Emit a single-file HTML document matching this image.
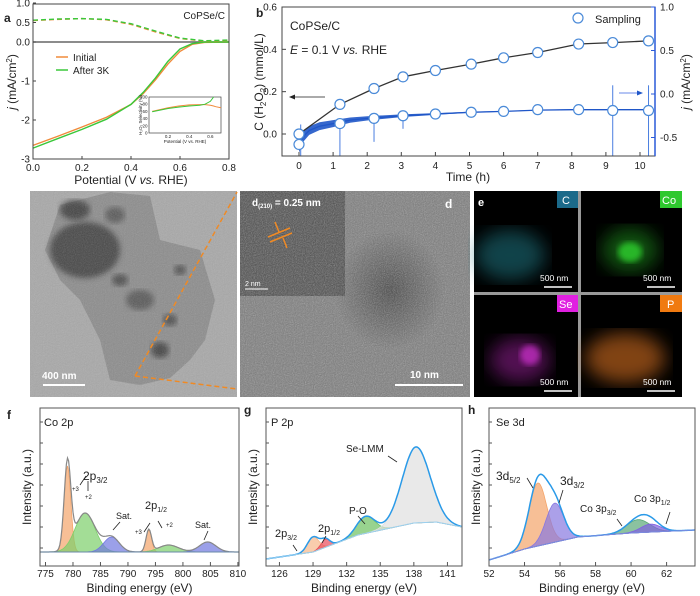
<!DOCTYPE html>
<html><head><meta charset="utf-8"><style>
html,body{margin:0;padding:0;background:#fff;}
svg{display:block;font-family:"Liberation Sans",sans-serif;}
</style></head><body>
<svg id="fig" width="700" height="596" viewBox="0 0 700 596" xmlns="http://www.w3.org/2000/svg">
<defs>
<filter id="noise" x="0" y="0" width="100%" height="100%"><feTurbulence type="fractalNoise" baseFrequency="0.9" numOctaves="2" seed="3"/><feColorMatrix type="saturate" values="0"/><feComponentTransfer><feFuncA type="linear" slope="0.7"/></feComponentTransfer></filter>
<filter id="blur3"><feGaussianBlur stdDeviation="3"/></filter>
<filter id="blur8"><feGaussianBlur stdDeviation="9"/></filter>
<radialGradient id="dark" cx="0.5" cy="0.5" r="0.5"><stop offset="0" stop-color="#2a2a2a" stop-opacity="0.7"/><stop offset="1" stop-color="#2a2a2a" stop-opacity="0"/></radialGradient>
</defs>
<g id="pa"></g>
<g id="pb"></g>
<g id="pc">
 <rect x="30" y="191" width="207" height="206" fill="#a8a8a8"/>
 <path d="M60,205 L110,192 L150,196 L160,240 L200,250 L215,300 L205,340 L190,360 L170,378 L140,385 L110,380 L100,340 L80,300 L60,280 L45,250 Z" fill="#8c8c8c"/>
 <ellipse cx="85" cy="250" rx="35" ry="28" fill="#3a3a3a" opacity="0.85" filter="url(#blur3)"/>
 <ellipse cx="75" cy="210" rx="15" ry="10" fill="#333" opacity="0.8" filter="url(#blur3)"/>
 <ellipse cx="115" cy="215" rx="10" ry="8" fill="#444" opacity="0.7" filter="url(#blur3)"/>
 <ellipse cx="140" cy="300" rx="14" ry="10" fill="#444" opacity="0.7" filter="url(#blur3)"/>
 <ellipse cx="120" cy="280" rx="8" ry="6" fill="#333" opacity="0.7" filter="url(#blur3)"/>
 <ellipse cx="160" cy="350" rx="9" ry="8" fill="#333" opacity="0.8" filter="url(#blur3)"/>
 <ellipse cx="170" cy="320" rx="7" ry="6" fill="#333" opacity="0.7" filter="url(#blur3)"/>
 <ellipse cx="180" cy="270" rx="6" ry="5" fill="#333" opacity="0.7" filter="url(#blur3)"/>
 <rect x="30" y="191" width="207" height="206" filter="url(#noise)" opacity="0.4"/>
 <line x1="43" y1="385" x2="85" y2="385" stroke="#fff" stroke-width="2"/>
 <text x="42" y="379" font-size="10" font-weight="bold" fill="#fff">400 nm</text>
 <path d="M135,376 L237,192 M135,376 L237,389" stroke="#f08a24" stroke-width="1.5" stroke-dasharray="5,3" fill="none"/>
</g>
<g id="pd">
 <rect x="240" y="191" width="230" height="206" fill="#7a7a7a"/>
 <rect x="240" y="191" width="105" height="105" fill="#4a4a4a"/>
 <ellipse cx="390" cy="290" rx="55" ry="60" fill="url(#dark)"/>
 <rect x="240" y="191" width="230" height="206" filter="url(#noise)" opacity="0.8"/>
 <text x="252" y="206" font-size="10" font-weight="bold" fill="#fff">d<tspan font-size="6" dy="2">(210)</tspan><tspan dy="-2"> = 0.25 nm</tspan></text>
 <path d="M268,237 L290,228 M270,242 L292,233" stroke="#f08a24" stroke-width="1.5"/>
 <path d="M275,222 L279,232 M287,248 L283,238" stroke="#f08a24" stroke-width="1.5"/>
 <text x="445" y="208" font-size="12" font-weight="bold" fill="#fff">d</text>
 <line x1="245" y1="289" x2="268" y2="289" stroke="#fff" stroke-width="1"/>
 <text x="245" y="286" font-size="7" fill="#fff">2 nm</text>
 <line x1="395" y1="385" x2="463" y2="385" stroke="#fff" stroke-width="2"/>
 <text x="410" y="378" font-size="10" font-weight="bold" fill="#fff">10 nm</text>
</g>
<g id="pe">
 <rect x="474" y="191" width="208" height="206" fill="#999"/>
 <rect x="474" y="191" width="104" height="101" fill="#000"/>
 <rect x="581" y="191" width="101" height="101" fill="#000"/>
 <rect x="474" y="295" width="104" height="102" fill="#000"/>
 <rect x="581" y="295" width="101" height="102" fill="#000"/>
 <ellipse cx="510" cy="255" rx="35" ry="25" fill="#1f6f7a" opacity="0.6" filter="url(#blur8)"/>
 <ellipse cx="630" cy="250" rx="28" ry="22" fill="#1a8a1a" opacity="0.6" filter="url(#blur8)"/>
 <ellipse cx="630" cy="252" rx="12" ry="10" fill="#2fd02f" opacity="0.8" filter="url(#blur3)"/>
 <ellipse cx="520" cy="360" rx="30" ry="22" fill="#8a1a8a" opacity="0.6" filter="url(#blur8)"/>
 <ellipse cx="530" cy="355" rx="10" ry="10" fill="#d030d0" opacity="0.7" filter="url(#blur3)"/>
 <ellipse cx="625" cy="358" rx="40" ry="25" fill="#b8601a" opacity="0.7" filter="url(#blur8)"/>
 <text x="478" y="206" font-size="11" font-weight="bold" fill="#fff">e</text>
 <rect x="557" y="191" width="21" height="17" fill="#1b6a8a"/><text x="562" y="204" font-size="11" fill="#fff">C</text>
 <rect x="660" y="191" width="22" height="17" fill="#2ec82e"/><text x="662" y="204" font-size="11" fill="#fff">Co</text>
 <rect x="557" y="295" width="21" height="17" fill="#e020e0"/><text x="559" y="308" font-size="11" fill="#fff">Se</text>
 <rect x="660" y="295" width="22" height="17" fill="#f07a10"/><text x="667" y="308" font-size="11" fill="#fff">P</text>
 <g fill="#fff" font-size="8.5">
  <text x="540" y="281">500 nm</text><line x1="544" y1="287" x2="572" y2="287" stroke="#fff" stroke-width="1.5"/>
  <text x="643" y="281">500 nm</text><line x1="647" y1="287" x2="675" y2="287" stroke="#fff" stroke-width="1.5"/>
  <text x="540" y="385">500 nm</text><line x1="544" y1="391" x2="572" y2="391" stroke="#fff" stroke-width="1.5"/>
  <text x="643" y="385">500 nm</text><line x1="647" y1="391" x2="675" y2="391" stroke="#fff" stroke-width="1.5"/>
 </g>
</g>
<g id="pf"></g>
<g id="pg"></g>
<g id="ph"></g>
</svg>
<script>
// ---------- DATA ----------
// Panel a
const aPot = [0,0.1,0.2,0.3,0.4,0.45,0.5,0.55,0.6,0.65,0.7,0.8];
const aInitial = [-2.65,-2.42,-2.18,-1.93,-1.6,-1.32,-0.97,-0.57,-0.24,-0.06,-0.01,0];
const aAfter = [-2.72,-2.48,-2.24,-1.98,-1.6,-1.29,-0.92,-0.5,-0.18,-0.04,0,0];
const aRingPot = [0,0.1,0.2,0.3,0.4,0.5,0.6,0.7,0.8];
const aRingInitial = [0.55,0.58,0.6,0.57,0.45,0.26,0.09,0.02,0.04];
const aRingAfter = [0.56,0.59,0.6,0.58,0.47,0.28,0.1,0.03,0.05];
const aYTicks = [1.0,0.5,0.0,-1,-2,-3];
const aYTickLabels = ["1.0","0.5","0.0","-1","-2","-3"];
const aXTicks = [0,0.2,0.4,0.6,0.8];
const insetPot = [0.05,0.2,0.3,0.4,0.5,0.55,0.6,0.63];
const insetInitial = [60,70,75,78,79,79,77,75];
const insetPotI2 = [0.65,0.7];
const insetInitial2 = [73,70];
const insetAfter = [59,68,72,75,77,80,88,100];
const insetYTicks = [0,20,40,60,80,100];
const insetXTicks = [0.2,0.4,0.6];
// Panel b
const bTime = [0,1.2,2.2,3.05,4,5.05,6,7,8.2,9.2,10.25];
const bH2O2 = [0,0.14,0.215,0.27,0.3,0.33,0.36,0.385,0.425,0.432,0.44];
const bJSample = [-0.58,-0.34,-0.28,-0.25,-0.23,-0.21,-0.2,-0.18,-0.18,-0.19,-0.19];
const bCurT = [0,0.1,0.3,0.6,1,1.5,2,3,4,5,6,7,8,9,10,10.4];
const bCurJ = [-0.62,-0.5,-0.42,-0.37,-0.34,-0.3,-0.28,-0.25,-0.23,-0.21,-0.2,-0.185,-0.18,-0.18,-0.18,-0.18];
const bCurNoise = [0.06,0.06,0.05,0.045,0.04,0.03,0.025,0.015,0.01,0.006,0.005,0.004,0.004,0.004,0.004,0.004];
const bSpikeT = [0.05,1.2,2.2,3.05,9.2,10.25];
const bSpikeTop = [-0.35,-0.3,-0.25,-0.22,0.1,0.1];
const bSpikeJ = [-0.75,-0.75,-0.55,-0.4,-0.75,-0.75];
const bLeftTicks = [0,0.2,0.4,0.6];
const bRightTicks = [1.0,0.5,0.0,-0.5];
const bXTicks = [0,1,2,3,4,5,6,7,8,9,10];
// Panel f (Co 2p)
const fCenters = [779.0,782.2,787.0,793.8,797.4,804.5];
const fHeights = [86,39,15,22,7,10];
const fSigmas = [0.6,1.8,1.4,0.5,1.8,1.5];
const fColors = ["#f4a46a","#7ccf6a","#7078e0","#f4a46a","#7ccf6a","#7078e0"];
const fXTicks = [775,780,785,790,795,800,805,810];
// Panel g (P 2p)
const gCenters = [129.0,130.1,133.7,138.2];
const gHeights = [15,8,17,76];
const gSigmas = [0.5,0.4,0.8,1.25];
const gColors = ["#f6b88a","#e84a5a","#6cc060","#e0e0e0"];
const gBgE = [124.8,129,133,138,140,142.3];
const gBgY = [559,552,535,523,522,527];
const gXTicks = [126,129,132,135,138,141];
// Panel h (Se 3d)
const hCenters = [54.75,55.7,60.4,61.1];
const hHeights = [63,39,13,8];
const hSigmas = [0.5,0.5,0.65,0.55];
const hColors = ["#f4a46a","#8878e0","#5aa878","#8060e0"];
const hBgE = [52,54,57,60,63.6];
const hBgY = [560,549,537,533,530];
const hXTicks = [52,54,56,58,60,62];

// ---------- HELPERS ----------
const NS="http://www.w3.org/2000/svg";
function mk(parent,tag,attrs){const e=document.createElementNS(NS,tag);for(const k in attrs)e.setAttribute(k,attrs[k]);parent.appendChild(e);return e;}
function txt(parent,x,y,s,size,anchor,extra){const t=mk(parent,'text',Object.assign({x:x,y:y,'font-size':size,'text-anchor':anchor||'start',fill:'#222'},extra||{}));t.textContent=s;return t;}
function lin(d0,d1,r0,r1){return v=>r0+(v-d0)*(r1-r0)/(d1-d0);}
function pathOf(xs,ys,sx,sy){return xs.map((v,i)=>(i?'L':'M')+sx(v).toFixed(1)+','+sy(ys[i]).toFixed(1)).join('');}
function interp(xs,ys,x){if(x<=xs[0])return ys[0];for(let i=1;i<xs.length;i++){if(x<=xs[i]){const t=(x-xs[i-1])/(xs[i]-xs[i-1]);return ys[i-1]+t*(ys[i]-ys[i-1]);}}return ys[ys.length-1];}

// ---------- PANEL A ----------
(function(){
const g=document.getElementById('pa');
const X0=33,X1=229,Y0=4,Y1=159;
const sx=lin(0,0.8,X0,X1), sy=lin(0,-3,42,159);
txt(g,4,22,'a',12,'start',{'font-weight':'bold'});
mk(g,'line',{x1:X0,y1:sy(0),x2:X1,y2:sy(0),stroke:'#666','stroke-width':1.5});
const ls=[[aInitial,'#f08a3a'],[aAfter,'#3ac83a']];
ls.forEach(([d,c],i)=>{const p=mk(g,'path',{d:pathOf(aPot,d,sx,sy),stroke:c,'stroke-width':1.4,fill:'none'});
});
[[aRingInitial,'#f08a3a'],[aRingAfter,'#3ac83a']].forEach(([d,c],i)=>{const p=mk(g,'path',{d:pathOf(aRingPot,d,sx,sy),stroke:c,'stroke-width':1.4,fill:'none','stroke-dasharray':'5,3'});
});
mk(g,'rect',{x:X0,y:Y0,width:X1-X0,height:Y1-Y0,fill:'none',stroke:'#444','stroke-width':1});
aYTicks.forEach((v,i)=>{const y=sy(v);mk(g,'line',{x1:X0,y1:y,x2:X0+3,y2:y,stroke:'#444'});txt(g,X0-3,y+3.5,aYTickLabels[i],10,'end');});
aXTicks.forEach(v=>{const x=sx(v);mk(g,'line',{x1:x,y1:Y1,x2:x,y2:Y1-3,stroke:'#444'});txt(g,x,Y1+12,v.toFixed(1),10,'middle');});
txt(g,131,184,'',12,'middle').innerHTML='Potential (V <tspan font-style="italic">vs.</tspan> RHE)';
const yt=txt(g,16,82,'',12,'middle',{transform:'rotate(-90 16 82)'});yt.innerHTML='<tspan font-style="italic">j</tspan> (mA/cm<tspan font-size="8" dy="-4">2</tspan><tspan dy="4">)</tspan>';
txt(g,225,19,'CoPSe/C',10,'end');
mk(g,'line',{x1:56,y1:57,x2:68,y2:57,stroke:'#f08a3a','stroke-width':1.5});txt(g,73,61,'Initial',10);
mk(g,'line',{x1:56,y1:70,x2:68,y2:70,stroke:'#3ac83a','stroke-width':1.5});txt(g,73,74,'After 3K',10);
// inset
const IX0=149,IX1=221,IY0=97,IY1=133;
const ix=lin(0.02,0.7,IX0,IX1), iy=lin(0,100,IY1,IY0);
mk(g,'rect',{x:IX0,y:IY0,width:IX1-IX0,height:IY1-IY0,fill:'#fff',stroke:'#444','stroke-width':0.7});
const ip1=mk(g,'path',{d:pathOf(insetPot.concat(insetPotI2),insetInitial.concat(insetInitial2),ix,iy),stroke:'#f08a3a','stroke-width':1,fill:'none'});

const ip2=mk(g,'path',{d:pathOf(insetPot,insetAfter,ix,iy),stroke:'#3ac83a','stroke-width':1,fill:'none'});

insetYTicks.forEach(v=>txt(g,IX0-1.5,iy(v)+1.5,String(v),4.5,'end'));
insetXTicks.forEach(v=>txt(g,ix(v),IY1+5,v.toFixed(1),4.5,'middle'));
txt(g,185,143,'Potential (V vs. RHE)',4.5,'middle');
txt(g,142,115,'H₂O₂ Selectivity (%)',4.5,'middle',{transform:'rotate(-90 142 115)'});
})();

// ---------- PANEL B ----------
(function(){
const g=document.getElementById('pb');
const X0=282,X1=655,Y0=7,Y1=156;
const sx=lin(0,10,299,640), syL=lin(0,0.6,134,7), syR=lin(0,1,94,7);
txt(g,256,17,'b',12,'start',{'font-weight':'bold'});
const up=bCurT.map((t,i)=>sx(t).toFixed(1)+','+syR(bCurJ[i]+bCurNoise[i]).toFixed(1));
const dn=bCurT.map((t,i)=>sx(t).toFixed(1)+','+syR(bCurJ[i]-bCurNoise[i]).toFixed(1)).reverse();
const band=mk(g,'polygon',{points:up.concat(dn).join(' '),fill:'#1f56c8',opacity:0.9});

const cl=mk(g,'path',{d:pathOf(bCurT,bCurJ,sx,syR),stroke:'#1f56c8','stroke-width':1.3,fill:'none'});

bSpikeT.forEach((t,i)=>{const s=mk(g,'line',{x1:sx(t),y1:syR(bSpikeTop[i]),x2:sx(t),y2:Math.min(Y1,syR(bSpikeJ[i])),stroke:'#4a7ee0','stroke-width':1});
});
const hl=mk(g,'path',{d:pathOf(bTime,bH2O2,sx,syL),stroke:'#333','stroke-width':1.3,fill:'none'});

bTime.forEach((t,i)=>{const c=mk(g,'circle',{cx:sx(t),cy:syL(bH2O2[i]),r:5,fill:'#fff',stroke:'#4a8ad8','stroke-width':1.2});

const c2=mk(g,'circle',{cx:sx(t),cy:syR(bJSample[i]),r:5,fill:'#fff',stroke:'#4a8ad8','stroke-width':1.2});
});
mk(g,'rect',{x:X0,y:Y0,width:X1-X0,height:Y1-Y0,fill:'none',stroke:'#444','stroke-width':1});
mk(g,'line',{x1:X1,y1:Y0,x2:X1,y2:Y1,stroke:'#2a5ad8','stroke-width':1.5});
bLeftTicks.forEach(v=>{const y=syL(v);mk(g,'line',{x1:X0,y1:y,x2:X0+4,y2:y,stroke:'#444'});txt(g,X0-5,y+3.5,v.toFixed(1),10,'end');});
bRightTicks.forEach(v=>{const y=syR(v);mk(g,'line',{x1:X1,y1:y,x2:X1-4,y2:y,stroke:'#2a5ad8'});txt(g,X1+5,y+3.5,v.toFixed(1),10,'start');});
bXTicks.forEach(v=>{const x=sx(v);mk(g,'line',{x1:x,y1:Y1,x2:x,y2:Y1-4,stroke:'#444'});txt(g,x,Y1+13,String(v),10,'middle');});
txt(g,468,181,'Time (h)',12,'middle');
const yl=txt(g,263,82,'',12,'middle',{transform:'rotate(-90 263 82)'});yl.innerHTML='C (H<tspan font-size="8" dy="3">2</tspan><tspan dy="-3">O</tspan><tspan font-size="8" dy="3">2</tspan><tspan dy="-3">) (mmol/L)</tspan>';
const yr=txt(g,690,82,'',12,'middle',{transform:'rotate(-90 690 82)'});yr.innerHTML='<tspan font-style="italic">j</tspan> (mA/cm<tspan font-size="8" dy="-4">2</tspan><tspan dy="4">)</tspan>';
txt(g,290,30,'CoPSe/C',12);
txt(g,290,54,'',12).innerHTML='<tspan font-style="italic">E</tspan> = 0.1 V <tspan font-style="italic">vs.</tspan> RHE';
mk(g,'circle',{cx:578,cy:18,r:5,fill:'#fff',stroke:'#4a8ad8','stroke-width':1.2});
txt(g,595,23,'Sampling',11);
mk(g,'path',{d:'M325,97 L292,97',stroke:'#555','stroke-width':1});mk(g,'path',{d:'M289,97 L295,94.5 L295,99.5Z',fill:'#222'});
mk(g,'path',{d:'M619,93 L640,93',stroke:'#6a8ae8','stroke-width':1});mk(g,'path',{d:'M643,93 L637,90.5 L637,95.5Z',fill:'#1f56c8'});
})();

// ---------- XPS helpers ----------
function gauss(E,c,h,s){return h*Math.exp(-0.5*Math.pow((E-c)/s,2));}
function xps(gid,o){
const g=document.getElementById(gid);
const sx=lin(o.e0,o.e1,o.X0,o.X1);
const bg=E=>o.bgE?interp(o.bgE,o.bgY,E):o.base;
const Es=[];for(let E=o.e0;E<=o.e1+1e-9;E+=o.step)Es.push(E);
o.centers.forEach((c,k)=>{
 const top=Es.map(E=>sx(E).toFixed(1)+','+(bg(E)-gauss(E,c,o.heights[k],o.sigmas[k])).toFixed(1));
 const bot=Es.map(E=>sx(E).toFixed(1)+','+bg(E).toFixed(1)).reverse();
 const p=mk(g,'polygon',{points:top.concat(bot).join(' '),fill:o.colors[k],'fill-opacity':0.7,stroke:o.colors[k],'stroke-width':0.8});
 
});
const env=Es.map((E,i)=>(i?'L':'M')+sx(E).toFixed(1)+','+(bg(E)-o.centers.reduce((a,c,k)=>a+gauss(E,c,o.heights[k],o.sigmas[k]),0)).toFixed(1)).join('');
const ep=mk(g,'path',{d:env,stroke:o.envColor,'stroke-width':o.envW,fill:'none'});

const bl=mk(g,'path',{d:Es.map((E,i)=>(i?'L':'M')+sx(E).toFixed(1)+','+bg(E).toFixed(1)).join(''),stroke:o.bgColor,'stroke-width':1,fill:'none'});

mk(g,'rect',{x:o.X0,y:408,width:o.X1-o.X0,height:158,fill:'none',stroke:'#555','stroke-width':1});
for(let i=0;i<7;i++)mk(g,'line',{x1:o.X0,y1:422+i*21,x2:o.X0+3,y2:422+i*21,stroke:'#555'});
o.ticks.forEach(v=>{const x=sx(v);mk(g,'line',{x1:x,y1:566,x2:x,y2:562,stroke:'#555'});txt(g,x,577,String(v),10,'middle');});
txt(g,(o.X0+o.X1)/2,592,'Binding energy (eV)',12,'middle');
const yx=o.X0-9;txt(g,yx,487,'Intensity (a.u.)',12,'middle',{transform:'rotate(-90 '+yx+' 487)'});
return g;}

(function(){
const g=xps('pf',{X0:40,X1:239,e0:774,e1:810.2,step:0.2,centers:fCenters,heights:fHeights,sigmas:fSigmas,colors:fColors,base:552,envColor:'#888',envW:1.2,bgColor:'#6a8aa8',ticks:fXTicks});
txt(g,7,419,'f',12,'start',{'font-weight':'bold'});txt(g,44,426,'Co 2p',11);
txt(g,83,480,'',12).innerHTML='2p<tspan font-size="8" dy="3">3/2</tspan>';
txt(g,72,491,'+3',6);txt(g,85,499,'+2',6);
mk(g,'path',{d:'M80,485 L86,476 M88,491 L88,481',stroke:'#222','stroke-width':0.8});
txt(g,116,519,'Sat.',9);mk(g,'path',{d:'M120,522 L113,530',stroke:'#222','stroke-width':0.8});
txt(g,145,509,'',11).innerHTML='2p<tspan font-size="7" dy="3">1/2</tspan>';
txt(g,135,534,'+3',6);txt(g,166,527,'+2',6);
mk(g,'path',{d:'M144,532 L150,523 M162,528 L158,521',stroke:'#222','stroke-width':0.8});
txt(g,195,528,'Sat.',9);mk(g,'path',{d:'M208,531 L204,540',stroke:'#222','stroke-width':0.8});
})();
(function(){
const g=xps('pg',{X0:266,X1:462,e0:124.8,e1:142.3,step:0.1,centers:gCenters,heights:gHeights,sigmas:gSigmas,colors:gColors,bgE:gBgE,bgY:gBgY,envColor:'#2a9ae8',envW:1.5,bgColor:'#9ad0f0',ticks:gXTicks});
txt(g,244,414,'g',12,'start',{'font-weight':'bold'});txt(g,271,426,'P 2p',11);
txt(g,346,452,'Se-LMM',10);mk(g,'path',{d:'M388,456 L397,462',stroke:'#222','stroke-width':0.8});
txt(g,349,514,'P-O',10);mk(g,'path',{d:'M358,516 L365,524',stroke:'#222','stroke-width':0.8});
txt(g,275,537,'',11).innerHTML='2p<tspan font-size="7" dy="3">3/2</tspan>';
mk(g,'path',{d:'M293,545 L297,551',stroke:'#222','stroke-width':0.8});
txt(g,318,532,'',11).innerHTML='2p<tspan font-size="7" dy="3">1/2</tspan>';
mk(g,'path',{d:'M326,536 L322,543',stroke:'#222','stroke-width':0.8});
})();
(function(){
const g=xps('ph',{X0:489,X1:695,e0:52,e1:63.6,step:0.05,centers:hCenters,heights:hHeights,sigmas:hSigmas,colors:hColors,bgE:hBgE,bgY:hBgY,envColor:'#2a9ae8',envW:1.5,bgColor:'#7a8ae0',ticks:hXTicks});
txt(g,468,414,'h',12,'start',{'font-weight':'bold'});txt(g,496,426,'Se 3d',11);
txt(g,496,480,'',12).innerHTML='3d<tspan font-size="8" dy="3">5/2</tspan>';
mk(g,'path',{d:'M527,478 L533,488',stroke:'#222','stroke-width':0.8});
txt(g,560,485,'',12).innerHTML='3d<tspan font-size="8" dy="3">3/2</tspan>';
mk(g,'path',{d:'M563,490 L559,503',stroke:'#222','stroke-width':0.8});
txt(g,580,512,'',10).innerHTML='Co 3p<tspan font-size="7" dy="3">3/2</tspan>';
mk(g,'path',{d:'M617,519 L622,526',stroke:'#222','stroke-width':0.8});
txt(g,634,502,'',10).innerHTML='Co 3p<tspan font-size="7" dy="3">1/2</tspan>';
mk(g,'path',{d:'M670,512 L666,524',stroke:'#222','stroke-width':0.8});
})();
</script>
</body></html>
